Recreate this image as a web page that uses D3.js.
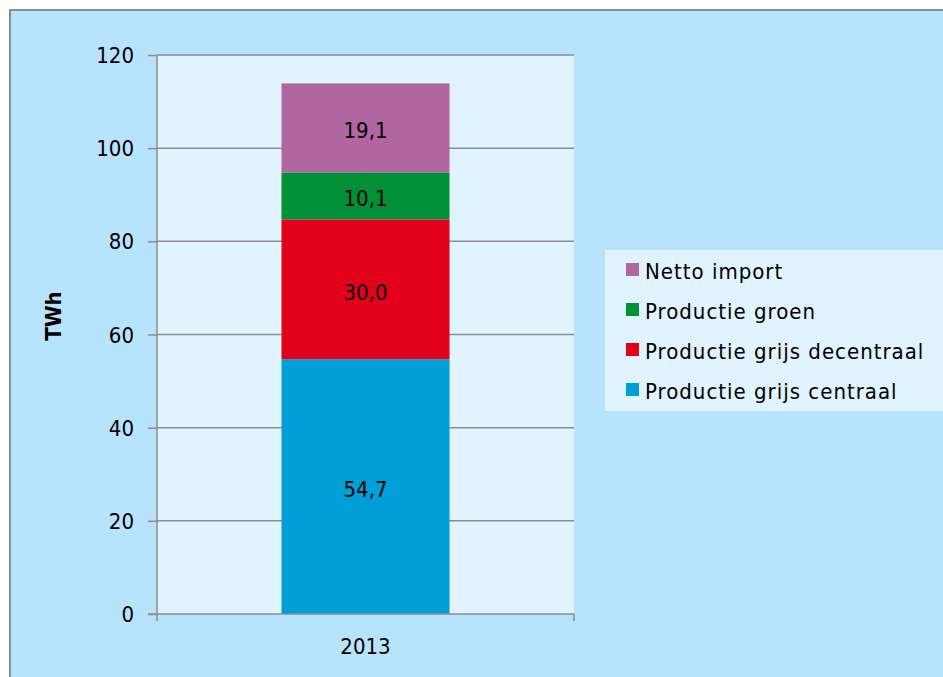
<!DOCTYPE html>
<html><head><meta charset="utf-8">
<script src="https://cdn.jsdelivr.net/npm/d3@7"></script>
<style>body{margin:0;background:#fff}svg{display:block}text{font-family:"DejaVu Sans Condensed","DejaVu Sans",sans-serif;font-stretch:condensed}</style>
</head><body>
<script>
const categories = ["2013"];
const seriesNames = ["Productie grijs centraal","Productie grijs decentraal","Productie groen","Netto import"];
const seriesValues = [[54.7],[30.0],[10.1],[19.1]];
const valueLabels = ["54,7","30,0","10,1","19,1"];
const colors = ["#009fda","#e2001a","#009035","#b066a0"];
const yTicks = [0,20,40,60,80,100,120];

const W=943,H=677;
const svg=d3.select("body").append("svg").attr("width",W).attr("height",H);
svg.append("rect").attr("x",0).attr("y",0).attr("width",W).attr("height",H).attr("fill","#fff");
svg.append("rect").attr("x",10).attr("y",10).attr("width",W+20).attr("height",H+20)
  .attr("fill","#b8e3fd").attr("stroke","#8c8c8c").attr("stroke-width",2);

const m={l:157,t:55,r:574,b:614};
const x=d3.scaleBand().domain(categories).range([m.l,m.r]).paddingInner(0.6).paddingOuter(0.3);
const y=d3.scaleLinear().domain([0,120]).range([m.b,m.t]);

svg.append("rect").attr("x",m.l).attr("y",m.t).attr("width",m.r-m.l).attr("height",m.b-m.t).attr("fill","#e1f3fe");

svg.append("g").selectAll("line").data(yTicks.filter(d=>d>0)).join("line")
  .attr("x1",m.l).attr("x2",m.r).attr("y1",d=>y(d)).attr("y2",d=>y(d))
  .attr("stroke","#8c8c8c").attr("stroke-width",1.5);

const stackData = categories.map((c,i)=>{const o={cat:c};seriesNames.forEach((s,j)=>o[s]=seriesValues[j][i]);return o;});
const stack=d3.stack().keys(seriesNames)(stackData);
const bw=449-281;
stack.forEach((layer,j)=>{
  svg.append("g").selectAll("rect").data(layer).join("rect")
    .attr("x",d=>x(d.data.cat)+x.bandwidth()/2-bw/2).attr("width",bw)
    .attr("y",d=>y(d[1])).attr("height",d=>y(d[0])-y(d[1])).attr("fill",colors[j]);
  svg.append("g").selectAll("text").data(layer).join("text")
    .attr("x",d=>x(d.data.cat)+x.bandwidth()/2).attr("y",d=>(y(d[0])+y(d[1]))/2+3)
    .attr("text-anchor","middle").attr("dominant-baseline","central")
    .attr("font-size",22).attr("fill","#000").text(valueLabels[j]);
});

// axes
const yAxis=svg.append("g").attr("transform",`translate(${m.l},0)`)
  .call(d3.axisLeft(y).tickValues(yTicks).tickSize(9).tickPadding(14));
yAxis.attr("font-family",null).attr("font-size",null);
yAxis.select(".domain").attr("stroke","#8c8c8c").attr("stroke-width",1.5).attr("d",`M0,${m.t}V${m.b}`);
yAxis.selectAll(".tick line").attr("stroke","#8c8c8c").attr("stroke-width",1.5);
yAxis.selectAll(".tick text").attr("font-size",22).attr("fill","#000").attr("dy",null)
  .attr("dominant-baseline","central");

const xg=svg.append("g");
xg.append("line").attr("x1",m.l-9).attr("x2",m.r).attr("y1",m.b).attr("y2",m.b).attr("stroke","#8c8c8c").attr("stroke-width",1.5);
[m.l,m.r].forEach(px=>xg.append("line").attr("x1",px).attr("x2",px).attr("y1",m.b).attr("y2",m.b+7).attr("stroke","#8c8c8c").attr("stroke-width",1.5));
xg.selectAll("text.cat").data(categories).join("text").attr("class","cat")
  .attr("x",d=>x(d)+x.bandwidth()/2).attr("y",646).attr("text-anchor","middle").attr("dominant-baseline","central")
  .attr("font-size",22).attr("fill","#000").text(d=>d);

svg.append("text").attr("transform","translate(53,316) rotate(-90)").attr("text-anchor","middle")
  .attr("dominant-baseline","central").attr("font-size",22).attr("font-weight","bold").text("TWh");

// legend
const lg=svg.append("g");
lg.append("rect").attr("x",605).attr("y",250).attr("width",W-605).attr("height",161).attr("fill","#e1f3fe");
const order=[3,2,1,0];
order.forEach((j,i)=>{
  const yy=271+i*40;
  lg.append("rect").attr("x",626).attr("y",yy-8).attr("width",13).attr("height",13).attr("fill",colors[j]);
  lg.append("text").attr("x",645).attr("y",yy).attr("dominant-baseline","central").attr("font-size",22)
    .attr("letter-spacing",1).attr("fill","#000").text(seriesNames[j]);
});
</script>
</body></html>
